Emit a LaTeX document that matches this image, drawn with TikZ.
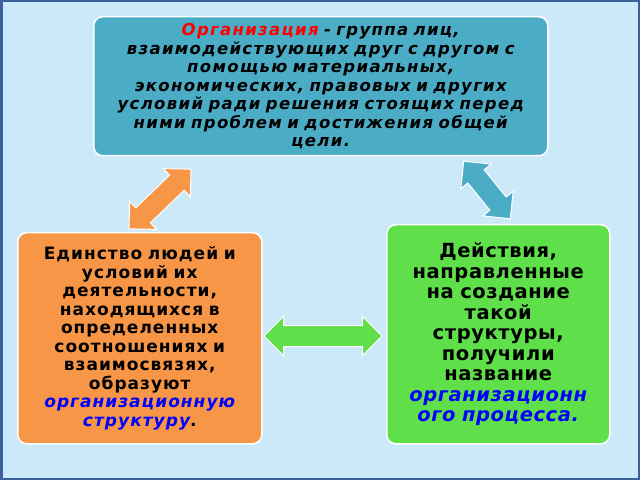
\documentclass[tikz,border=0pt]{standalone}
\usepackage{fontspec}
\setmainfont{DejaVu Sans}
\usetikzlibrary{shapes.arrows}
\definecolor{bgblue}{HTML}{CCE9F9}
\definecolor{frameblue}{HTML}{3B5E9C}
\definecolor{tealbox}{HTML}{4BACC6}
\definecolor{orangebox}{HTML}{F79646}
\definecolor{greenbox}{HTML}{5FE04A}
\begin{document}
\begin{tikzpicture}[x=1pt,y=1pt,
        % --- Styles ---
        infobox/.style={rectangle, draw=white, line width=1.5pt, rounded corners=9pt, align=center, inner sep=3pt},
        twoway/.style={double arrow, draw=white, line width=1pt, minimum width=0pt, inner xsep=0pt, inner ysep=10pt, double arrow head extend=9pt}
    ]
        \useasboundingbox (0,0) rectangle (640,480);
        \fill[frameblue] (0,0) rectangle (640,480);
        \fill[bgblue] (2.5,2.5) rectangle (637.5,477.5);

        % --- Boxes ---
        \node[infobox, fill=tealbox, minimum width=454pt, minimum height=139pt, anchor=north west, text width=446pt, font=\bfseries\itshape\fontsize{16.5}{18.5}\selectfont\addfontfeatures{LetterSpace=8}] (organization) at (93,464)
            {\textcolor{red}{Организация} - группа лиц,\\взаимодействующих друг с другом с\\помощью материальных,\\экономических, правовых и других\\условий ради решения стоящих перед\\ними проблем и достижения общей\\цели.};
        \node[infobox, fill=orangebox, minimum width=244pt, minimum height=211pt, anchor=north west, text width=236pt, font=\bfseries\fontsize{17}{18.5}\selectfont\addfontfeatures{LetterSpace=6}] (structure) at (17,248)
            {Единство людей и\\условий их\\деятельности,\\находящихся в\\определенных\\соотношениях и\\взаимосвязях,\\образуют\\\textcolor{blue}{\itshape организационную}\\\textcolor{blue}{\itshape структуру}.};
        \node[infobox, fill=greenbox, minimum width=223pt, minimum height=219pt, anchor=north west, text width=217pt, font=\bfseries\fontsize{19.5}{20.5}\selectfont\addfontfeatures{LetterSpace=3}] (process) at (386,256)
            {Действия,\\направленные\\на создание\\такой\\структуры,\\получили\\название\\\textcolor{blue}{\itshape организационн}\\\textcolor{blue}{\itshape ого процесса.}};

        % --- Two-way arrows ---
        \node[twoway, fill=orangebox, minimum height=86pt, rotate=44] (orgarrow) at (160,281) {};
        \node[twoway, fill=tealbox, minimum height=74pt, rotate=-51] (tealarrow) at (487,290) {};
        \node[twoway, fill=greenbox, minimum height=118pt] (greenarrow) at (323,144) {};
    \end{tikzpicture}
\end{document}
